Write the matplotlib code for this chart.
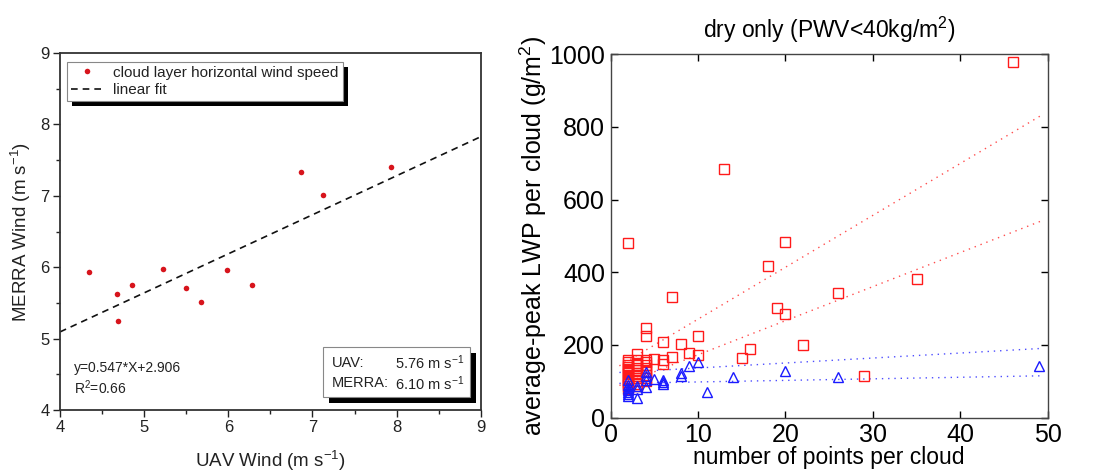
import numpy as np
import matplotlib
matplotlib.use('Agg')
import matplotlib.pyplot as plt
from matplotlib.patches import Rectangle

plt.rcParams['font.family'] = ['Liberation Sans', 'DejaVu Sans']
plt.rcParams['mathtext.default'] = 'regular'

# ---- left panel data: UAV vs MERRA wind
uav_wind = [4.35, 4.68, 4.69, 4.86, 5.22, 5.50, 5.68, 5.98, 6.28, 6.86, 7.13, 7.93]
merra_wind = [5.93, 5.62, 5.25, 5.75, 5.98, 5.71, 5.52, 5.96, 5.75, 7.34, 7.01, 7.41]
fit_slope = 0.547
fit_intercept = 2.906
fit_r2 = 0.66
mean_uav = 5.76
mean_merra = 6.10

# ---- right panel data: LWP vs number of points per cloud
red_n = [2, 2, 2, 2, 2, 2, 2, 2, 2, 2, 2, 2, 2, 2, 2,
         3, 3, 3, 3, 3, 3, 3, 3, 3, 3, 3, 3,
         4, 4, 4, 4, 4, 4, 4, 4, 4, 4,
         5, 6, 6, 6, 7, 7, 8, 9, 10, 10, 13, 15, 16, 18, 19, 20, 20,
         22, 26, 29, 35, 46]
red_lwp = [480, 158, 152, 146, 140, 134, 128, 122, 116, 110, 104, 98, 92, 86, 80,
           174, 158, 150, 144, 138, 130, 124, 116, 110, 102, 94, 86,
           248, 225, 160, 154, 146, 138, 128, 118, 110, 100,
           161, 209, 160, 147, 333, 166, 203, 179, 225, 172, 683, 163, 190, 418, 301, 483, 286,
           200, 344, 116, 381, 978]
blue_n = [2, 2, 2, 2, 2, 2, 2, 3, 3, 3, 4, 4, 4, 4, 5, 6, 6, 6,
          8, 8, 9, 10, 11, 14, 20, 26, 49]
blue_lwp = [60, 65, 70, 76, 82, 90, 104, 55, 80, 88, 85, 104, 126, 115, 106, 104, 94, 98,
            122, 115, 143, 152, 72, 113, 128, 113, 143]
# fitted lines (slope, intercept)
red_fits = [(14.27, 128.4), (9.37, 79.4)]
blue_fits = [(1.37, 123.0), (0.43, 94.0)]
fit_range = [1, 49.5]

fig = plt.figure(figsize=(10.93, 4.74), dpi=100)

# =============== left panel ===============
txt = '#222222'
ax1 = fig.add_axes([0.0549, 0.135, 0.385, 0.753])
ax1.plot(uav_wind, merra_wind, 'o', color='#d7141c', markersize=4, markeredgewidth=0,
         label='cloud layer horizontal wind speed', zorder=3)
xf = np.array([4, 9])
ax1.plot(xf, fit_slope * xf + fit_intercept, '--', color='#111111', lw=1.2,
         dashes=(4, 3), label='linear fit', zorder=2)
ax1.set_xlim(4, 9)
ax1.set_ylim(4, 9)
ax1.set_xticks([4, 5, 6, 7, 8, 9])
ax1.set_yticks([4, 5, 6, 7, 8, 9])
ax1.set_xticks(np.arange(4.5, 9, 1), minor=True)
ax1.set_yticks(np.arange(4.5, 9, 1), minor=True)
ax1.tick_params(which='major', direction='out', length=5, width=1.0, pad=2.5,
                labelsize=12, colors=txt)
ax1.tick_params(which='minor', direction='out', length=3, width=1.0, colors=txt)
for s in ax1.spines.values():
    s.set_linewidth(1.3)
    s.set_color('#333333')
ax1.set_xlabel('UAV Wind (m s$^{-1}$)', fontsize=13.5, color=txt, labelpad=10)
ax1.set_ylabel('MERRA Wind (m s$^{-1}$)', fontsize=13.5, color=txt, labelpad=5)

leg = ax1.legend(loc='upper left', bbox_to_anchor=(0.016, 0.975), fontsize=11,
                 frameon=True, fancybox=False, framealpha=1, handlelength=2.2,
                 handletextpad=0.6, borderpad=0.25, labelspacing=0.2, borderaxespad=0)
leg.get_frame().set_edgecolor('#888888')
leg.get_frame().set_linewidth(0.8)
for t in leg.get_texts():
    t.set_color(txt)

ax1.text(0.033, 0.118, 'y=0.547*X+2.906', transform=ax1.transAxes, fontsize=10,
         color=txt, va='center', ha='left')
ax1.text(0.033, 0.062, 'R$^2$=%.2f' % fit_r2, transform=ax1.transAxes, fontsize=10,
         color=txt, va='center', ha='left')

# info box with means
bx0, by0, bw, bh = 0.625, 0.036, 0.35, 0.14
sh = 0.014
ax1.add_patch(Rectangle((bx0 + sh, by0 - sh * 1.2), bw, bh, transform=ax1.transAxes,
                        facecolor='black', edgecolor='none', zorder=4))
ax1.add_patch(Rectangle((bx0, by0), bw, bh, transform=ax1.transAxes,
                        facecolor='white', edgecolor='#888888', lw=0.8, zorder=5))
ax1.text(0.645, 0.132, 'UAV:', transform=ax1.transAxes, fontsize=10.5, color=txt,
         va='center', ha='left', zorder=6)
ax1.text(0.962, 0.132, '%.2f m s$^{-1}$' % mean_uav, transform=ax1.transAxes, fontsize=10.5,
         color=txt, va='center', ha='right', zorder=6)
ax1.text(0.645, 0.075, 'MERRA:', transform=ax1.transAxes, fontsize=10.5, color=txt,
         va='center', ha='left', zorder=6)
ax1.text(0.962, 0.075, '%.2f m s$^{-1}$' % mean_merra, transform=ax1.transAxes, fontsize=10.5,
         color=txt, va='center', ha='right', zorder=6)

# =============== right panel ===============
ax2 = fig.add_axes([0.5587, 0.1188, 0.3998, 0.767])
ax2.plot(red_n, red_lwp, 's', mfc='none', mec='#ff1a1a', mew=1.0, markersize=6.5, zorder=3)
ax2.plot(blue_n, blue_lwp, '^', mfc='none', mec='#1a1aff', mew=1.0, markersize=6.5, zorder=4)
xr = np.array(fit_range)
for m, b in red_fits:
    ax2.plot(xr, m * xr + b, color='#ff4d4d', lw=1.0, linestyle=(0, (1, 3.5)), zorder=2)
for m, b in blue_fits:
    ax2.plot(xr, m * xr + b, color='#4d4dff', lw=1.0, linestyle=(0, (1, 3.5)), zorder=2)
ax2.set_xlim(0, 50)
ax2.set_ylim(0, 1000)
ax2.set_xticks([0, 10, 20, 30, 40, 50])
ax2.set_yticks([0, 200, 400, 600, 800, 1000])
ax2.tick_params(direction='in', length=5, width=1.0, top=True, right=True,
                labelsize=18, pad=4)
for s in ax2.spines.values():
    s.set_linewidth(1.0)
    s.set_color('#444444')
ax2.set_xlabel('number of points per cloud', fontsize=16.5, labelpad=-1)
ax2.set_ylabel('average-peak LWP per cloud (g/m$^2$)', fontsize=18, labelpad=0)
ax2.set_title('dry only (PWV<40kg/m$^2$)', fontsize=16.5, pad=12)

# legend shadow (solid black offset box)
fig.canvas.draw()
bb = leg.get_window_extent()
inv = ax1.transAxes.inverted()
(lx0, ly0), (lx1, ly1) = inv.transform([[bb.x0, bb.y0], [bb.x1, bb.y1]])
dx = 5 / bb.width * (lx1 - lx0)
dy = 5 / bb.height * (ly1 - ly0)
ax1.add_patch(Rectangle((lx0 + dx, ly0 - dy), lx1 - lx0, ly1 - ly0, transform=ax1.transAxes,
                        facecolor='black', edgecolor='none', zorder=4.9, clip_on=False))

fig.savefig('out.png', dpi=100)
